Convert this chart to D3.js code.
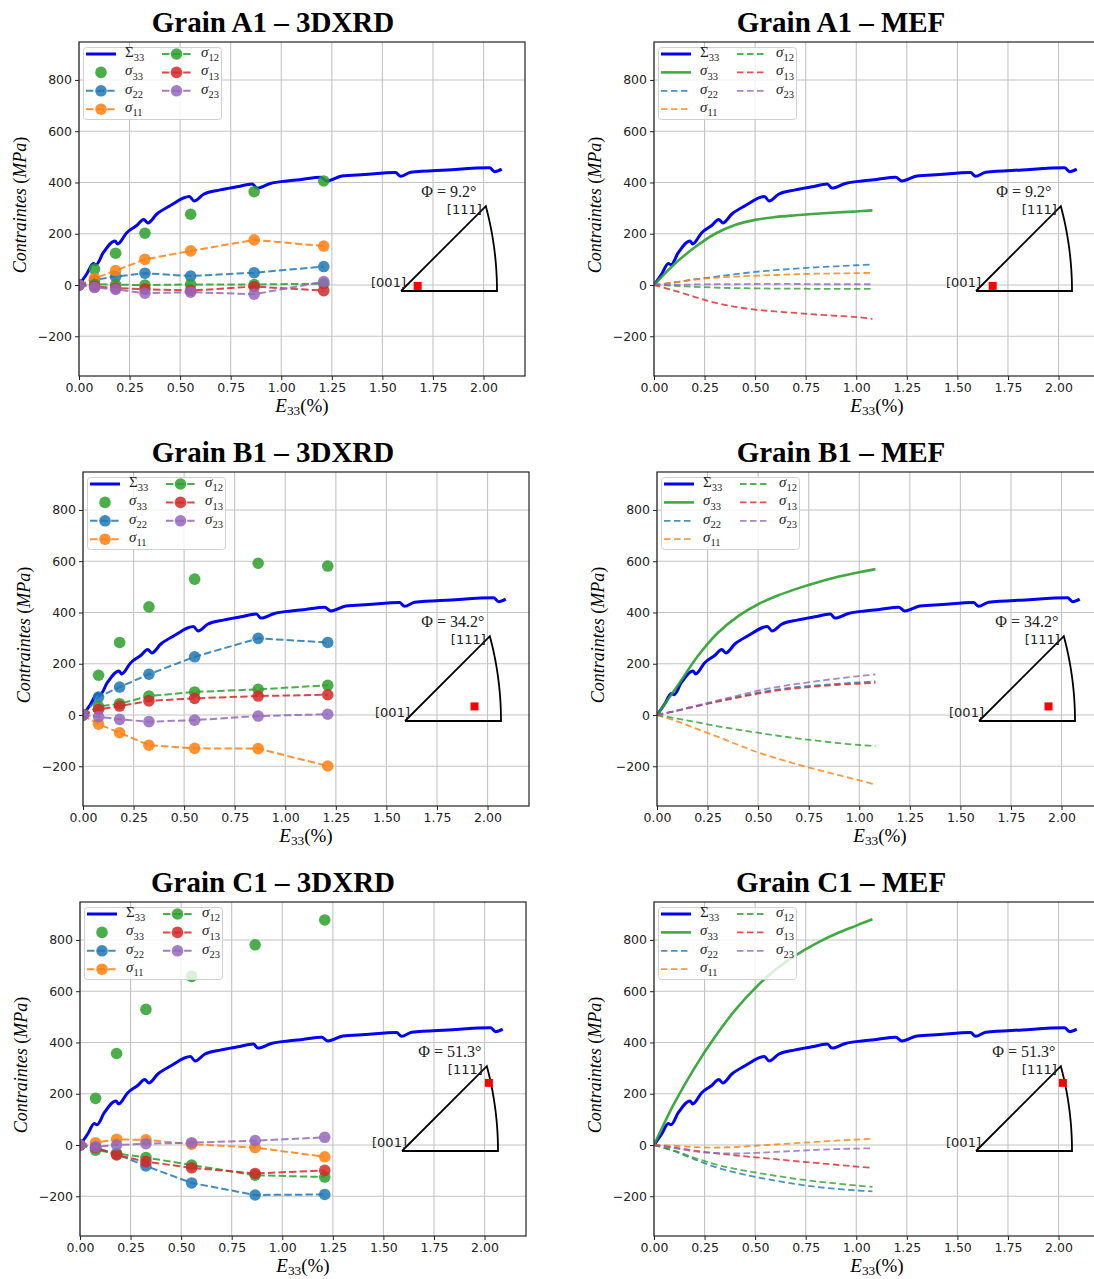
<!DOCTYPE html>
<html><head><meta charset="utf-8">
<script src="https://cdn.jsdelivr.net/npm/d3@7"></script>
<style>body{margin:0;background:#fff}</style>
</head><body><svg id="c" width="1094" height="1279"></svg>
<script>
// ---------------- data ----------------
const xTicks = [0, 0.25, 0.5, 0.75, 1.0, 1.25, 1.5, 1.75, 2.0];
const yTicks = [-200, 0, 200, 400, 600, 800];
const xDomain = [0, 2.205];
const yDomain = [-355, 948];

// macroscopic stress Σ33 vs E33 (same in every panel)
const macroStrain = [0, 0.038, 0.071, 0.084, 0.12, 0.178, 0.191, 0.236, 0.285, 0.320, 0.340, 0.385, 0.45, 0.546, 0.569, 0.616, 0.698, 0.78, 0.857, 0.88, 0.946, 1.028, 1.10, 1.195, 1.225, 1.30, 1.41, 1.565, 1.59, 1.64, 1.82, 2.03, 2.055, 2.09];
const macroStress = [0, 43, 84, 79, 126, 172, 160, 204, 232, 256, 242, 277, 309, 345, 328, 354, 371, 383, 394, 378, 396, 406, 412, 420, 406, 425, 431, 439, 424, 440, 449, 457, 442, 452];

// 3DXRD measurement strains
const xrdStrain = [0, 0.077, 0.181, 0.326, 0.552, 0.866, 1.21];
// Grain A1 – 3DXRD
const A1_xrd_s33 = [0, 62, 124, 202, 276, 364, 406];
const A1_xrd_s22 = [0, 20, 33, 46, 35, 48, 72];
const A1_xrd_s11 = [0, 26, 56, 100, 133, 176, 152];
const A1_xrd_s12 = [0, 3, 1, 0, 2, 2, 5];
const A1_xrd_s13 = [0, -5, -12, -16, -22, -6, -22];
const A1_xrd_s23 = [0, -10, -17, -32, -28, -36, 13];
// Grain B1 – 3DXRD
const B1_xrd_s33 = [0, 155, 283, 422, 530, 592, 581];
const B1_xrd_s22 = [0, 70, 109, 159, 227, 299, 283];
const B1_xrd_s11 = [0, -36, -69, -118, -130, -131, -199];
const B1_xrd_s12 = [0, 33, 44, 74, 90, 100, 116];
const B1_xrd_s13 = [0, 22, 35, 55, 65, 74, 79];
const B1_xrd_s23 = [0, -7, -17, -26, -20, -4, 3];
// Grain C1 – 3DXRD
const C1_xrd_s33 = [0, 182, 357, 529, 658, 781, 878];
const C1_xrd_s22 = [0, -10, -36, -82, -148, -195, -193];
const C1_xrd_s11 = [0, 9, 22, 20, 3, -10, -46];
const C1_xrd_s12 = [0, -20, -33, -49, -78, -118, -125];
const C1_xrd_s13 = [0, -10, -39, -65, -89, -111, -99];
const C1_xrd_s23 = [0, -7, 0, 5, 9, 17, 30];

// MEF (finite element) strains
const mefStrain = [0, 0.1, 0.2, 0.3, 0.4, 0.5, 0.6, 0.7, 0.8, 0.9, 1.0, 1.08];
// Grain A1 – MEF
const A1_mef_s33 = [0, 81, 146, 199, 234, 254, 265, 272, 278, 283, 287, 291];
const A1_mef_s22 = [0, 10, 22, 32, 42, 51, 58, 64, 69, 73, 77, 80];
const A1_mef_s11 = [0, 10, 21, 28, 33, 36, 39, 42, 44, 45, 46, 48];
const A1_mef_s12 = [0, -3, -7, -10, -12, -13, -14, -14, -15, -15, -15, -15];
const A1_mef_s13 = [0, -22, -46, -69, -85, -96, -103, -109, -115, -120, -125, -132];
const A1_mef_s23 = [0, 1, 2, 3, 3, 4, 4, 4, 3, 3, 3, 3];
// Grain B1 – MEF
const B1_mef_s33 = [0, 112, 228, 320, 385, 432, 467, 495, 519, 540, 557, 569];
const B1_mef_s22 = [0, 17, 36, 54, 71, 87, 100, 110, 116, 122, 127, 131];
const B1_mef_s11 = [0, -25, -55, -85, -116, -146, -171, -194, -215, -235, -255, -271];
const B1_mef_s12 = [0, -14, -29, -44, -57, -69, -81, -92, -101, -110, -117, -121];
const B1_mef_s13 = [0, 17, 35, 52, 68, 83, 96, 105, 112, 118, 122, 125];
const B1_mef_s23 = [0, 18, 38, 57, 76, 95, 110, 122, 133, 143, 152, 158];
// Grain C1 – MEF
const C1_mef_s33 = [0, 162, 300, 420, 525, 612, 684, 740, 786, 824, 856, 881];
const C1_mef_s22 = [0, -24, -56, -85, -107, -124, -139, -152, -163, -171, -177, -181];
const C1_mef_s11 = [0, -3, -8, -10, -8, -3, 2, 7, 12, 17, 21, 24];
const C1_mef_s12 = [0, -22, -50, -75, -93, -107, -120, -132, -142, -150, -158, -163];
const C1_mef_s13 = [0, -10, -22, -32, -40, -48, -55, -63, -70, -77, -84, -89];
const C1_mef_s23 = [0, -12, -25, -31, -33, -31, -27, -23, -19, -16, -14, -13];

// orientation in stereographic triangle
const phiLabels = ["9.2", "34.2", "51.3"];
const redSquareX = [0.072, 0.30, 0.375];
const redSquareY = [0.022, 0.063, 0.294];

const seriesKeys = ["s33", "s22", "s11", "s12", "s13", "s23"];
const seriesColors = {s33: "#2ca02c", s22: "#1f77b4", s11: "#ff7f0e", s12: "#2ca02c", s13: "#d62728", s23: "#9467bd"};
const seriesSub = {s33: "33", s22: "22", s11: "11", s12: "12", s13: "13", s23: "23"};

// ---------------- layout ----------------
const W = 446, H = 334;
const grains = [
  {name: "A1", xrd: {s33: A1_xrd_s33, s22: A1_xrd_s22, s11: A1_xrd_s11, s12: A1_xrd_s12, s13: A1_xrd_s13, s23: A1_xrd_s23},
               mef: {s33: A1_mef_s33, s22: A1_mef_s22, s11: A1_mef_s11, s12: A1_mef_s12, s13: A1_mef_s13, s23: A1_mef_s23}},
  {name: "B1", xrd: {s33: B1_xrd_s33, s22: B1_xrd_s22, s11: B1_xrd_s11, s12: B1_xrd_s12, s13: B1_xrd_s13, s23: B1_xrd_s23},
               mef: {s33: B1_mef_s33, s22: B1_mef_s22, s11: B1_mef_s11, s12: B1_mef_s12, s13: B1_mef_s13, s23: B1_mef_s23}},
  {name: "C1", xrd: {s33: C1_xrd_s33, s22: C1_xrd_s22, s11: C1_xrd_s11, s12: C1_xrd_s12, s13: C1_xrd_s13, s23: C1_xrd_s23},
               mef: {s33: C1_mef_s33, s22: C1_mef_s22, s11: C1_mef_s11, s12: C1_mef_s12, s13: C1_mef_s13, s23: C1_mef_s23}}
];
const rowTops = [42, 472, 902];
const leftXs = [[79, 654], [83, 657], [80, 654]];
const titleXs = [273, 841];

const svg = d3.select("#c");
const serif = "'Liberation Serif', 'Times New Roman', serif";
const sans = "'DejaVu Sans', sans-serif";

function subText(sel, main, sub, size, italicMain, shift) {
  const sh = shift == null ? 0.28 : shift;
  sel.append("tspan").attr("font-style", italicMain ? "italic" : "normal").text(main);
  sel.append("tspan").attr("font-size", size * 0.7).attr("dy", size * sh).attr("font-style", "normal").text(sub);
}

let clipId = 0;
function drawPanel(gi, col) {
  const grain = grains[gi];
  const kind = col === 0 ? "xrd" : "mef";
  const left = leftXs[gi][col], top = rowTops[gi];
  const x = d3.scaleLinear().domain(xDomain).range([0, W]);
  const y = d3.scaleLinear().domain(yDomain).range([H, 0]);
  const g = svg.append("g").attr("transform", `translate(${left},${top})`);

  // title
  svg.append("text").attr("x", titleXs[col]).attr("y", top - 10)
    .attr("text-anchor", "middle").attr("font-family", serif).attr("font-weight", "bold")
    .attr("font-size", 29).text(`Grain ${grain.name} – ${kind === "xrd" ? "3DXRD" : "MEF"}`);

  // grid
  g.append("g").selectAll("line").data(xTicks).join("line")
    .attr("x1", d => x(d)).attr("x2", d => x(d)).attr("y1", 0).attr("y2", H)
    .attr("stroke", "#c4c4c4").attr("stroke-width", 1.1);
  g.append("g").selectAll("line").data(yTicks).join("line")
    .attr("y1", d => y(d)).attr("y2", d => y(d)).attr("x1", 0).attr("x2", W)
    .attr("stroke", "#c4c4c4").attr("stroke-width", 1.1);

  // axes
  const xa = g.append("g").attr("transform", `translate(0,${H})`)
    .call(d3.axisBottom(x).tickValues(xTicks).tickFormat(d3.format(".2f")).tickSize(4).tickPadding(3));
  const ya = g.append("g")
    .call(d3.axisLeft(y).tickValues(yTicks).tickFormat(d3.format("d")).tickSize(4).tickPadding(3));
  [xa, ya].forEach(a => {
    a.select(".domain").remove();
    a.selectAll("text").attr("font-family", sans).attr("font-size", 12.5).attr("fill", "#222");
    a.selectAll("line").attr("stroke", "#222");
  });

  // axis labels
  const xl = g.append("text").attr("x", W / 2 + 0).attr("y", H + 36).attr("text-anchor", "middle")
    .attr("font-family", serif).attr("font-size", 19);
  subText(xl, "E", "33", 19, true, 0.18);
  xl.append("tspan").attr("dy", -19 * 0.18).text("(%)");
  const yl = g.append("text").attr("transform", `translate(-53,${H / 2 - 4}) rotate(-90)`)
    .attr("text-anchor", "middle").attr("font-family", serif).attr("font-size", 18);
  yl.append("tspan").attr("font-style", "italic").text("Contraintes");
  yl.append("tspan").text(" (");
  yl.append("tspan").attr("font-style", "italic").text("MPa");
  yl.append("tspan").text(")");

  // clip
  const cid = "clip" + (clipId++);
  g.append("clipPath").attr("id", cid).append("rect").attr("width", W).attr("height", H);
  const plot = g.append("g").attr("clip-path", `url(#${cid})`);

  const line = d3.line().x(d => x(d[0])).y(d => y(d[1])).curve(d3.curveMonotoneX);
  const smooth = d3.line().x(d => x(d[0])).y(d => y(d[1])).curve(d3.curveCatmullRom.alpha(0.5));

  // Σ33 macro
  plot.append("path").datum(d3.zip(macroStrain, macroStress)).attr("d", line)
    .attr("fill", "none").attr("stroke", "#0000ff").attr("stroke-width", 3).attr("stroke-linejoin", "round");

  if (kind === "xrd") {
    const lin = d3.line().x(d => x(d[0])).y(d => y(d[1]));
    seriesKeys.forEach(k => {
      const pts = d3.zip(xrdStrain, grain.xrd[k]);
      if (k !== "s33") {
        plot.append("path").datum(pts).attr("d", lin).attr("fill", "none")
          .attr("stroke", seriesColors[k]).attr("stroke-width", 2).attr("stroke-dasharray", "7.4,3.2")
          .attr("opacity", 0.85);
      }
      plot.append("g").selectAll("circle").data(pts).join("circle")
        .attr("cx", d => x(d[0])).attr("cy", d => y(d[1])).attr("r", 5.8)
        .attr("fill", seriesColors[k]).attr("opacity", 0.85);
    });
  } else {
    seriesKeys.forEach(k => {
      const pts = d3.zip(mefStrain, grain.mef[k]);
      const p = plot.append("path").datum(pts).attr("d", smooth).attr("fill", "none")
        .attr("stroke", seriesColors[k]);
      if (k === "s33") p.attr("stroke-width", 2.6).attr("opacity", 0.9);
      else p.attr("stroke-width", 1.8).attr("stroke-dasharray", "6.5,3.5").attr("opacity", 0.8);
    });
  }

  // stereographic triangle
  const s = d3.scaleLinear().domain([0, Math.SQRT2 - 1]).range([0, 96]);
  const ox = 322, oy = 249;
  const tri = g.append("g").attr("transform", `translate(${ox},${oy})`);
  const arcPts = d3.range(0, 15.001, 0.5).map(a => {
    const t = a * Math.PI / 180;
    return [-1 + Math.SQRT2 * Math.cos(t), Math.SQRT2 * Math.sin(t)];
  });
  const c111 = arcPts[arcPts.length - 1];
  const triPath = [[0, 0], ...arcPts, [0, 0]];
  tri.append("path").attr("d", d3.line().x(d => s(d[0])).y(d => -s(d[1]))(triPath))
    .attr("fill", "none").attr("stroke", "#000").attr("stroke-width", 1.8).attr("stroke-linejoin", "miter");
  tri.append("rect").attr("x", s(redSquareX[gi]) - 4).attr("y", -s(redSquareY[gi]) - 4)
    .attr("width", 8).attr("height", 8).attr("fill", "#ff0000");
  tri.append("text").attr("x", 5).attr("y", -4).attr("text-anchor", "end")
    .attr("font-family", sans).attr("font-size", 13).attr("fill", "#222").text("[001]");
  tri.append("text").attr("x", s(c111[0]) - 4).attr("y", -s(c111[1]) + 8).attr("text-anchor", "end")
    .attr("font-family", sans).attr("font-size", 13).attr("fill", "#222").text("[111]");
  tri.append("text").attr("x", s(c111[0]) - 37).attr("y", -s(c111[1]) - 9).attr("text-anchor", "middle")
    .attr("font-family", serif).attr("font-size", 16).attr("fill", "#222").text(`Φ = ${phiLabels[gi]}°`);

  // legend
  const lg = g.append("g");
  lg.append("rect").attr("x", 4.5).attr("y", 5.5).attr("width", 138).attr("height", 72).attr("rx", 3)
    .attr("fill", "#fff").attr("fill-opacity", 0.8).attr("stroke", "#d0d0d0").attr("stroke-width", 1);
  const entries = [
    {k: "S33", col: 0, row: 0}, {k: "s33", col: 0, row: 1}, {k: "s22", col: 0, row: 2}, {k: "s11", col: 0, row: 3},
    {k: "s12", col: 1, row: 0}, {k: "s13", col: 1, row: 1}, {k: "s23", col: 1, row: 2}
  ];
  entries.forEach(e => {
    const hx0 = e.col === 0 ? 7 : 83, hx1 = e.col === 0 ? 37 : 112, tx = e.col === 0 ? 46 : 122;
    const cy = 12 + e.row * 18.4;
    if (e.k === "S33") {
      lg.append("line").attr("x1", hx0).attr("x2", hx1).attr("y1", cy).attr("y2", cy)
        .attr("stroke", "#0000ff").attr("stroke-width", 3);
    } else if (kind === "xrd") {
      if (e.k !== "s33") {
        lg.append("line").attr("x1", hx0).attr("x2", hx1).attr("y1", cy).attr("y2", cy)
          .attr("stroke", seriesColors[e.k]).attr("stroke-width", 2).attr("stroke-dasharray", "7.4,3.2").attr("opacity", 0.85);
      }
      lg.append("circle").attr("cx", (hx0 + hx1) / 2).attr("cy", cy).attr("r", 5.8)
        .attr("fill", seriesColors[e.k]).attr("opacity", 0.85);
    } else {
      const l = lg.append("line").attr("x1", hx0).attr("x2", hx1).attr("y1", cy).attr("y2", cy)
        .attr("stroke", seriesColors[e.k]);
      if (e.k === "s33") l.attr("stroke-width", 2.6).attr("opacity", 0.9);
      else l.attr("stroke-width", 1.8).attr("stroke-dasharray", "6.5,3.5").attr("opacity", 0.8);
    }
    const t = lg.append("text").attr("x", tx).attr("y", cy + 3).attr("font-family", serif)
      .attr("font-size", 15).attr("fill", "#222");
    if (e.k === "S33") subText(t, "Σ", "33", 15, false);
    else subText(t, "σ", seriesSub[e.k], 15, true);
  });

  // frame
  g.append("rect").attr("width", W).attr("height", H).attr("fill", "none")
    .attr("stroke", "#222").attr("stroke-width", 1.2);
}

for (let gi = 0; gi < 3; gi++) for (let col = 0; col < 2; col++) drawPanel(gi, col);
</script>
</body></html>
